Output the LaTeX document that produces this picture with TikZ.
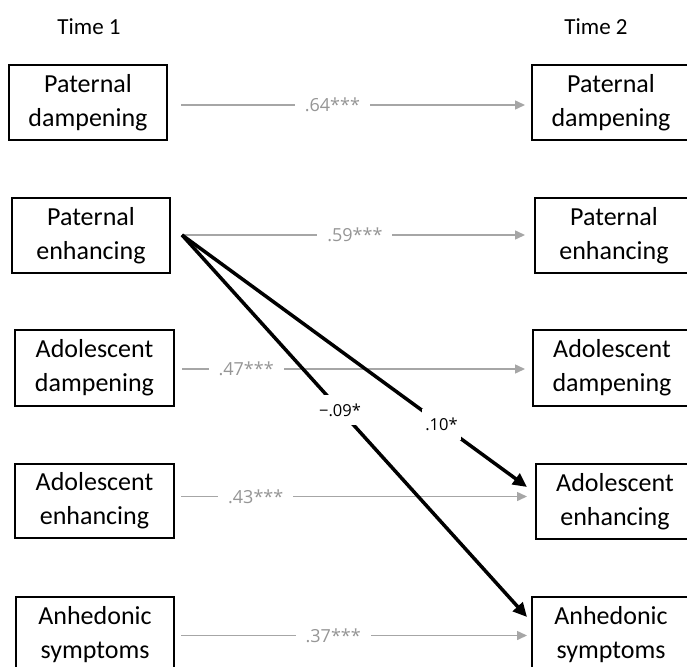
\documentclass[tikz,border=0pt]{standalone}
\usepackage{fontspec}
\setmainfont{Carlito}
\newfontfamily\labelfont{Open Sans}
\usetikzlibrary{arrows.meta}
\definecolor{pathgray}{RGB}{166,166,166}
\definecolor{labelgray}{RGB}{150,150,150}

\begin{document}
\begin{tikzpicture}[x=1pt,y=-1pt,
  box/.style={draw, line width=1.5pt, minimum width=158pt, minimum height=75pt,
    align=center, inner sep=0pt, font=\fontsize{26}{34}\selectfont},
  header/.style={font=\fontsize{23}{28}\selectfont},
  stab/.style={draw=pathgray, line width=1.5pt, -{Triangle[length=10pt,width=9pt]}},
  cross/.style={draw=black, line width=3.5pt, -{Triangle[length=14pt,width=13pt]}},
  stablabel/.style={fill=white, text=labelgray, inner xsep=10pt, inner ysep=2pt,
    font=\labelfont\fontsize{18}{22}\selectfont},
  crosslabel/.style={fill=white, text=black, inner xsep=3pt, inner ysep=9pt,
    font=\labelfont\fontsize{16.5}{20}\selectfont}
]
\useasboundingbox (0,0) rectangle (687,666);
\clip (0,0) rectangle (687,666);

% column headers
\node[header] (t1) at (89,27) {Time 1};
\node[header] (t2) at (596,27) {Time 2};

% Time 1 variables
\node[box] (pd1) at (88,102.5)  {Paternal\\dampening};
\node[box] (pe1) at (91,235.5)  {Paternal\\enhancing};
\node[box, minimum width=159pt, minimum height=76pt] (ad1) at (94.5,368) {Adolescent\\dampening};
\node[box, minimum width=159pt, minimum height=74pt] (ae1) at (94.5,501) {Adolescent\\enhancing};
\node[box] (as1) at (95,634.5)  {Anhedonic\\symptoms};

% Time 2 variables
\node[box] (pd2) at (611,102.5) {Paternal\\dampening};
\node[box] (pe2) at (614,235.5) {Paternal\\enhancing};
\node[box, minimum height=76pt] (ad2) at (612,368) {Adolescent\\dampening};
\node[box] (ae2) at (615,501.5) {Adolescent\\enhancing};
\node[box] (as2) at (611,634.5) {Anhedonic\\symptoms};

% path end points
\coordinate (pd1o) at (181,105);   \coordinate (pd2i) at (525,105);
\coordinate (pe1o) at (182,235);   \coordinate (pe2i) at (525,235);
\coordinate (ad1o) at (182,369);   \coordinate (ad2i) at (525,369);
\coordinate (ae1o) at (181,496.5); \coordinate (ae2i) at (527,496.5);
\coordinate (as1o) at (181,635.5); \coordinate (as2i) at (527,635.5);
\coordinate (ae2x) at (527,487);
\coordinate (as2x) at (527,617);

% stability paths
\draw[stab] (pd1o) -- node[stablabel, pos=0.44]  {.64***} (pd2i);
\draw[stab] (pe1o) -- node[stablabel, pos=0.504] {.59***} (pe2i);
\draw[stab] (ad1o) -- node[stablabel, pos=0.187] {.47***} (ad2i);
\draw[stab] (ae1o) -- node[stablabel, pos=0.216] {.43***} (ae2i);
\draw[stab] (as1o) -- node[stablabel, pos=0.44]  {.37***} (as2i);

% cross-lagged paths
\draw[cross] (pe1o) -- node[crosslabel, pos=0.752] {.10*} (ae2x);
\draw[cross] (pe1o) -- node[crosslabel, pos=0.458] {−.09*} (as2x);
\end{tikzpicture}
\end{document}
